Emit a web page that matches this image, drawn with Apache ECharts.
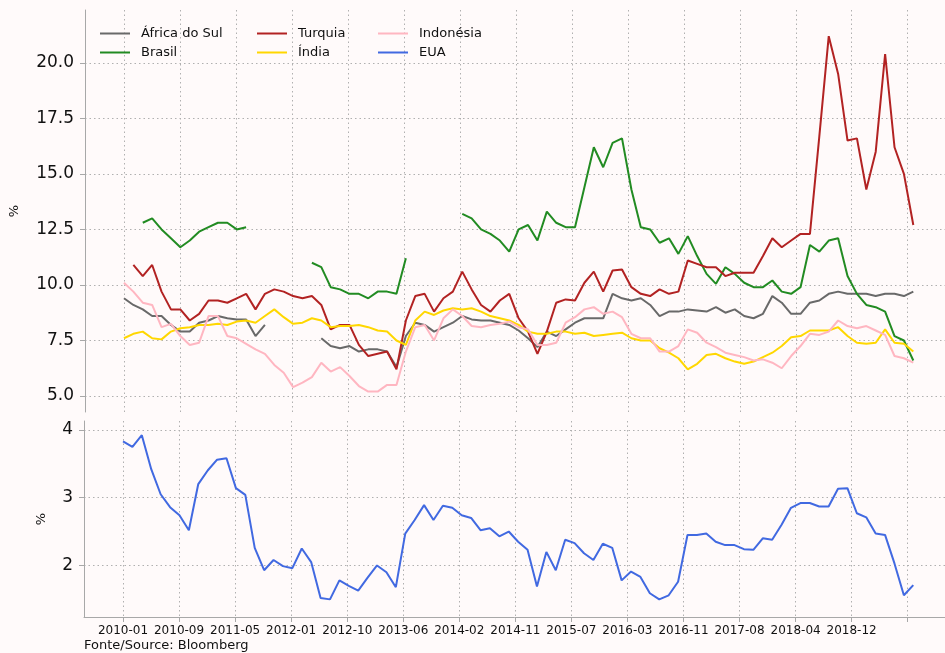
<!DOCTYPE html>
<html><head><meta charset="utf-8">
<script src="https://cdn.jsdelivr.net/npm/echarts@6/dist/echarts.min.js"></script>
<style>html,body{margin:0;padding:0;background:#fffafa}#c{width:945px;height:653px}</style>
</head><body><div id="c"></div>
<script>
// x-axis: observation index, expressed in units of one tick interval
const tickLabels = ['2010-01','2010-09','2011-05','2012-01','2012-10','2013-06','2014-02','2014-11','2015-07','2016-03','2016-11','2017-08','2018-04','2018-12'];
const tickCount = 15;            // last tick carries no label
const sampleSpan = 14.1;         // data spans 14.1 tick intervals
const topTicks = [5, 7.5, 10, 12.5, 15, 17.5, 20];
const bottomTicks = [2, 3, 4];

const africaDoSul = [9.4,9.1,8.9,8.6,8.6,8.2,7.9,7.9,8.3,8.4,
  8.6,8.5,8.45,8.45,7.7,8.2,null,null,null,null,
  null,7.6,7.25,7.15,7.25,7.0,7.1,7.1,7.0,6.3,
  7.7,8.3,8.2,7.9,8.1,8.3,8.6,8.45,8.4,8.4,
  8.3,8.2,7.95,7.6,7.2,7.9,7.7,8.0,8.3,8.5,
  8.5,8.5,9.6,9.4,9.3,9.4,9.1,8.6,8.8,8.8,
  8.9,8.85,8.8,9.0,8.75,8.9,8.6,8.5,8.7,9.5,
  9.2,8.7,8.7,9.2,9.3,9.6,9.7,9.6,9.6,9.6,
  9.5,9.6,9.6,9.5,9.7];
const brasil = [null,null,12.8,13.0,12.5,12.1,11.7,12.0,12.4,12.6,
  12.8,12.8,12.5,12.6,null,null,null,null,null,null,
  11.0,10.8,9.9,9.8,9.6,9.6,9.4,9.7,9.7,9.6,
  11.2,null,null,null,null,null,13.2,13.0,12.5,12.3,
  12.0,11.5,12.5,12.7,12.0,13.3,12.8,12.6,12.6,14.4,
  16.2,15.3,16.4,16.6,14.3,12.6,12.5,11.9,12.1,11.4,
  12.2,11.3,10.5,10.05,10.8,10.5,10.1,9.9,9.9,10.2,
  9.7,9.6,9.9,11.8,11.5,12.0,12.1,10.4,9.6,9.1,
  9.0,8.8,7.7,7.5,6.6];
const turquia = [null,10.9,10.4,10.9,9.7,8.9,8.9,8.4,8.7,9.3,
  9.3,9.2,9.4,9.6,8.9,9.6,9.8,9.7,9.5,9.4,
  9.5,9.1,8.0,8.2,8.2,7.3,6.8,6.9,7.0,6.2,
  8.4,9.5,9.6,8.8,9.4,9.7,10.6,9.8,9.1,8.8,
  9.3,9.6,8.5,7.9,6.9,7.9,9.2,9.35,9.3,10.1,
  10.6,9.7,10.65,10.7,9.9,9.6,9.5,9.8,9.6,9.7,
  11.1,10.95,10.8,10.8,10.4,10.55,10.55,10.55,11.3,12.1,
  11.7,12.0,12.3,12.3,16.7,21.2,19.5,16.5,16.6,14.3,
  16.0,20.4,16.2,15.0,12.7];
const india = [7.6,7.8,7.9,7.6,7.55,7.9,8.05,8.1,8.2,8.2,
  8.25,8.2,8.35,8.4,8.3,8.6,8.9,8.55,8.25,8.3,
  8.5,8.4,8.1,8.15,8.15,8.2,8.1,7.95,7.9,7.5,
  7.3,8.4,8.8,8.65,8.85,8.95,8.9,8.95,8.8,8.6,
  8.5,8.4,8.2,7.9,7.8,7.8,7.9,7.9,7.8,7.85,
  7.7,7.75,7.8,7.85,7.6,7.5,7.5,7.15,6.95,6.7,
  6.2,6.45,6.85,6.9,6.7,6.55,6.45,6.55,6.75,6.95,
  7.25,7.65,7.7,7.95,7.95,7.95,8.1,7.7,7.4,7.35,
  7.4,8.0,7.4,7.35,7.0];
const indonesia = [10.1,9.7,9.2,9.1,8.1,8.25,7.7,7.3,7.4,8.6,
  8.6,7.7,7.6,7.35,7.1,6.9,6.4,6.05,5.4,5.6,
  5.85,6.5,6.1,6.3,5.9,5.45,5.2,5.2,5.5,5.5,
  7.0,8.1,8.2,7.5,8.5,8.9,8.6,8.15,8.1,8.2,
  8.25,8.35,8.1,8.0,7.3,7.3,7.4,8.3,8.55,8.9,
  9.0,8.7,8.8,8.55,7.8,7.6,7.6,7.0,7.0,7.25,
  8.0,7.85,7.4,7.2,6.95,6.85,6.75,6.6,6.65,6.5,
  6.25,6.8,7.25,7.8,7.75,7.9,8.4,8.15,8.05,8.15,
  7.95,7.75,6.8,6.7,6.5];
const eua = [3.83,3.75,3.92,3.42,3.05,2.86,2.74,2.52,3.2,3.4,
  3.56,3.58,3.14,3.04,2.26,1.93,2.08,1.99,1.96,2.25,
  2.05,1.52,1.5,1.78,1.7,1.63,1.82,2.0,1.9,1.68,
  2.47,2.67,2.89,2.67,2.88,2.85,2.74,2.7,2.52,2.55,
  2.43,2.5,2.35,2.23,1.69,2.2,1.93,2.38,2.33,2.18,
  2.08,2.32,2.26,1.78,1.91,1.83,1.59,1.5,1.56,1.76,
  2.45,2.45,2.47,2.35,2.3,2.3,2.24,2.23,2.4,2.38,
  2.6,2.85,2.92,2.92,2.87,2.87,3.13,3.14,2.77,2.71,
  2.47,2.45,2.03,1.56,1.71];

const FONT = 'DejaVu Sans';
const step = sampleSpan / (eua.length - 1);
const pairs = arr => arr.map((v, j) => [j * step, v == null ? '-' : v]);
const tickPos = Array.from({length: tickCount}, (_, i) => i);
const labelPos = tickLabels.map((_, i) => i);
const gridLine = {show: true, lineStyle: {color: '#b0b0b0', width: 1, type: [1.5, 3]}};
const spine = {color: '#a8a8a8', width: 1};
const xMin = -0.696, xMax = 14.666;

const chart = echarts.init(document.getElementById('c'), null, {renderer: 'canvas'});
const mk = (name, data, color, g) => ({
  name, type: 'line', data: pairs(data), xAxisIndex: g, yAxisIndex: g,
  showSymbol: false, symbol: 'none', connectNulls: false, silent: true,
  lineStyle: {color, width: 2}, itemStyle: {color}, emphasis: {disabled: true}
});
const legendBase = {
  orient: 'vertical', top: 21, itemWidth: 30, itemHeight: 2, itemGap: 4, icon: 'rect',
  selectedMode: false,
  textStyle: {fontFamily: FONT, fontSize: 13, lineHeight: 15, color: '#111', padding: [0, 0, 0, 6]}
};
chart.setOption({
  backgroundColor: '#fffafa',
  animation: false,
  grid: [
    {left: 84, right: 0, top: 10, height: 402},
    {left: 84, right: 0, top: 421, height: 196}
  ],
  legend: [
    Object.assign({}, legendBase, {left: 95, data: ['África do Sul', 'Brasil']}),
    Object.assign({}, legendBase, {left: 252, data: ['Turquia', 'Índia']}),
    Object.assign({}, legendBase, {left: 373, data: ['Indonésia', 'EUA']})
  ],
  xAxis: [
    {gridIndex: 0, type: 'value', min: xMin, max: xMax,
     axisLine: {show: false}, axisTick: {show: false, customValues: tickPos},
     axisLabel: {show: false, customValues: tickPos}, splitLine: gridLine},
    {gridIndex: 1, type: 'value', min: xMin, max: xMax,
     axisLine: {show: true, onZero: false, lineStyle: spine},
     axisTick: {show: true, length: 5, customValues: tickPos, lineStyle: spine},
     axisLabel: {customValues: labelPos, margin: 8, fontFamily: FONT, fontSize: 12, color: '#111',
       formatter: v => tickLabels[Math.round(v)] || ''},
     splitLine: gridLine}
  ],
  yAxis: [
    {gridIndex: 0, type: 'value', min: 4.28, max: 22.38,
     name: '%', nameLocation: 'middle', nameGap: 64, nameRotate: 90,
     nameTextStyle: {fontFamily: FONT, fontSize: 13, color: '#111'},
     axisLine: {show: true, onZero: false, lineStyle: spine},
     axisTick: {show: true, length: 5, customValues: topTicks, lineStyle: spine},
     axisLabel: {customValues: topTicks, margin: 11, fontFamily: FONT, fontSize: 17, color: '#111',
       formatter: v => v.toFixed(1)},
     splitLine: gridLine},
    {gridIndex: 1, type: 'value', min: 1.24, max: 4.13,
     name: '%', nameLocation: 'middle', nameGap: 36, nameRotate: 90,
     nameTextStyle: {fontFamily: FONT, fontSize: 13, color: '#111'},
     axisLine: {show: true, onZero: false, lineStyle: spine},
     axisTick: {show: true, length: 5, customValues: bottomTicks, lineStyle: spine},
     axisLabel: {customValues: bottomTicks, margin: 11, fontFamily: FONT, fontSize: 17, color: '#111',
       formatter: v => String(Math.round(v))},
     splitLine: gridLine}
  ],
  graphic: [{type: 'text', left: 84, top: 639,
    style: {text: 'Fonte/Source: Bloomberg', fontFamily: FONT, fontSize: 13, fill: '#111'}}],
  series: [
    mk('África do Sul', africaDoSul, '#696969', 0),
    mk('Brasil', brasil, '#228b22', 0),
    mk('Turquia', turquia, '#b22222', 0),
    mk('Índia', india, '#ffd700', 0),
    mk('Indonésia', indonesia, '#ffb6c1', 0),
    mk('EUA', eua, '#4169e1', 1)
  ]
});
</script></body></html>
